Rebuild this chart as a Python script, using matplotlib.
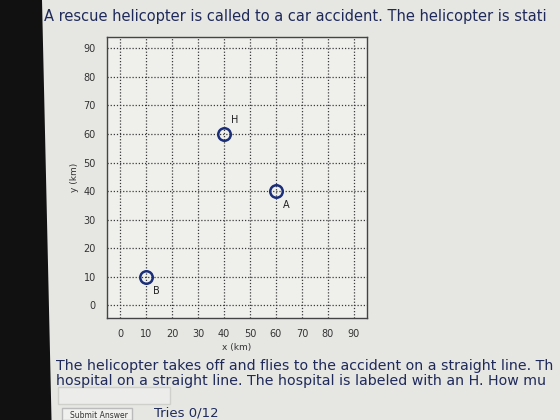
import matplotlib.pyplot as plt
from matplotlib.patches import Polygon, Rectangle

# Points on the map (km)
names = ["B", "H", "A"]
x_km = [10, 40, 60]
y_km = [10, 60, 40]
label_dx = [4, 4, 4]
label_dy = [-5, 5, -5]
ticks = [0, 10, 20, 30, 40, 50, 60, 70, 80, 90]

fig = plt.figure(figsize=(5.6, 4.2), dpi=100)
fig.patch.set_facecolor('#e6e6e3')

# dark screen bezel on the left of the photo
fig.patches.append(Polygon([[0, 0], [0.092, 0], [0.075, 1], [0, 1]], closed=True,
                           transform=fig.transFigure, facecolor='#111111', edgecolor='none'))

ax = fig.add_axes([107 / 560, 1 - 318 / 420, 260 / 560, 281 / 420])
ax.set_facecolor('#efefec')
ax.plot(x_km, y_km, 'o', markersize=9, markerfacecolor='none',
        markeredgecolor='#1a2e7a', markeredgewidth=1.8, zorder=3)
for n, x, y, dx, dy in zip(names, x_km, y_km, label_dx, label_dy):
    ax.text(x + dx, y + dy, n, fontsize=7, color='#222222', ha='center', va='center')

ax.set_xlim(-5, 95)
ax.set_ylim(-4.5, 94)
ax.set_xticks(ticks)
ax.set_yticks(ticks)
ax.tick_params(labelsize=7, colors='#333333', length=0, pad=8)
ax.grid(True, linestyle=(0, (1, 1.5)), color='#3a3a3a', linewidth=0.9)
for s in ax.spines.values():
    s.set_color('#444444')
    s.set_linewidth(1)
ax.set_xlabel("x (km)", fontsize=6.5, color='#333333', labelpad=3)
ax.set_ylabel("y (km)", fontsize=6.5, color='#333333', labelpad=3)

# question text around the figure
txt = '#1f2a5a'
fig.text(44 / 560, 1 - 16 / 420, "A rescue helicopter is called to a car accident. The helicopter is stati",
         fontsize=10.5, color=txt, va='center')
fig.text(56 / 560, 1 - 366 / 420, "The helicopter takes off and flies to the accident on a straight line. Th",
         fontsize=10.2, color=txt, va='center')
fig.text(56 / 560, 1 - 381 / 420, "hospital on a straight line. The hospital is labeled with an H. How mu",
         fontsize=10.2, color=txt, va='center')
fig.patches.append(Rectangle((58 / 560, 1 - 404 / 420), 112 / 560, 17 / 420,
                             transform=fig.transFigure, facecolor='#ececea', edgecolor='#cfcfcc'))
fig.patches.append(Rectangle((62 / 560, 1 - 420 / 420), 70 / 560, 12 / 420,
                             transform=fig.transFigure, facecolor='#f0f0ee', edgecolor='#bbbbbb'))
fig.text(70 / 560, 1 - 415 / 420, "Submit Answer", fontsize=5.5, color='#333333', va='center')
fig.text(154 / 560, 1 - 413 / 420, "Tries 0/12", fontsize=9.5, color=txt, va='center')

fig.savefig("out.png", dpi=100, facecolor=fig.get_facecolor())
